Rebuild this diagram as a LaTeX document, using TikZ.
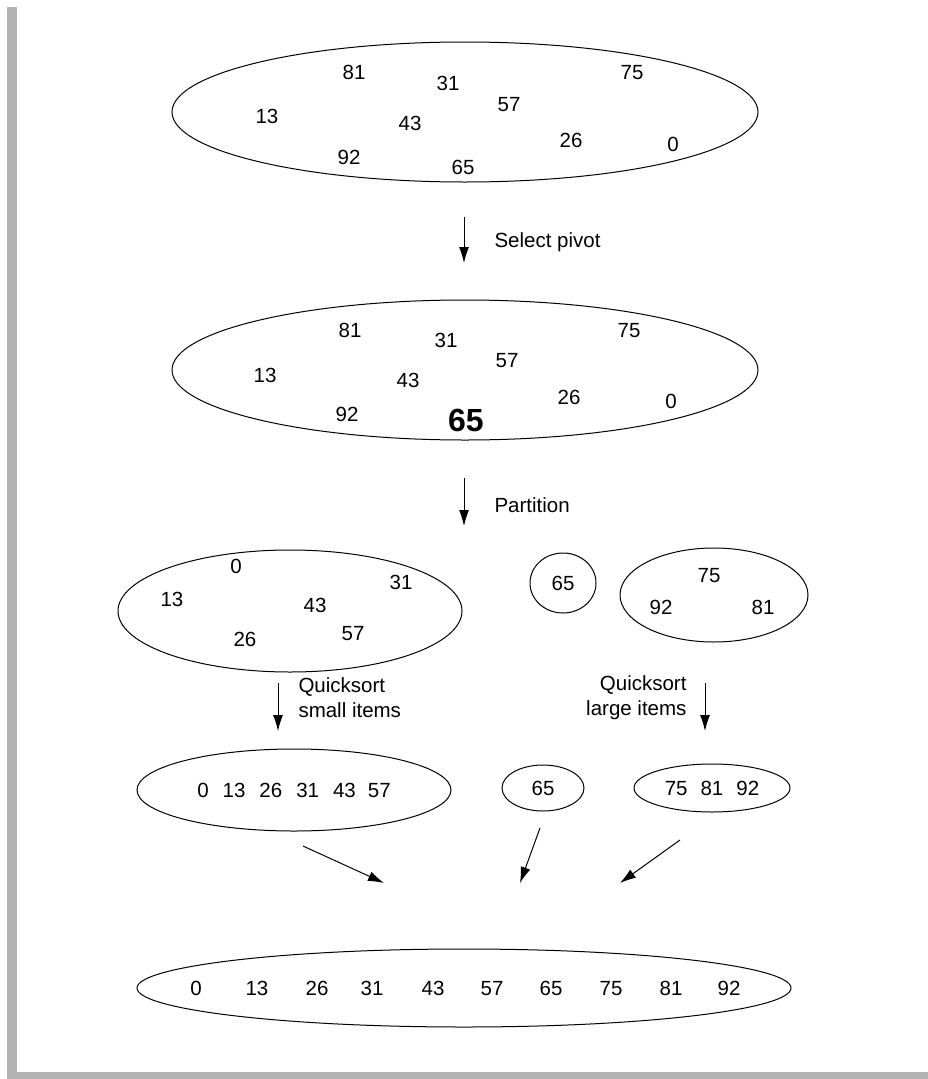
\documentclass[tikz,border=0pt]{standalone}
\usepackage{fontspec}
\setmainfont{Liberation Sans}
\usetikzlibrary{arrows.meta,shapes.geometric,positioning}

\begin{document}
\begin{tikzpicture}[x=1pt, y=-1pt, font=\fontsize{20.5}{25}\selectfont,
    line width=1pt, >={Latex[length=16pt,width=10pt]},
    num/.style={inner sep=0pt, text height=14.7pt, text depth=0pt},
    set/.style={draw, ellipse, inner sep=0pt},
    steplabel/.style={inner sep=0pt}]
    \useasboundingbox (0,0) rectangle (928,1079);
    % grey frame on the left and at the bottom
    \fill[black!30] (7,7) rectangle (17,1079);
    \fill[black!30] (7,1072) rectangle (928,1079);

    % the unsorted set
    \node[set, minimum width=586pt, minimum height=140pt] (unsorted) at (465,112) {};
    \node[num] (u81) at (354,72) {81};   \node[num] (u31) at (448,83) {31};
    \node[num] (u75) at (632,72) {75};   \node[num] (u13) at (267,116) {13};
    \node[num] (u57) at (509,104) {57};  \node[num] (u43) at (410,123) {43};
    \node[num] (u26) at (571,140) {26};  \node[num] (u0) at (673,144) {0};
    \node[num] (u92) at (349,157) {92};  \node[num] (u65) at (463,167) {65};

    % the set with its pivot
    \node[set, minimum width=586pt, minimum height=140pt] (pivoted) at (465,370) {};
    \node[num] (p81) at (350,330) {81};  \node[num] (p31) at (446,340) {31};
    \node[num] (p75) at (629,330) {75};  \node[num] (p13) at (265,375) {13};
    \node[num] (p57) at (507,360) {57};  \node[num] (p43) at (408,380) {43};
    \node[num] (p26) at (569,397) {26};  \node[num] (p0) at (671,401) {0};
    \node[num] (p92) at (347,414) {92};
    \node[num, text height=23pt, font=\fontsize{32}{36}\selectfont\bfseries] (p65) at (466,420) {65};

    % after the partition
    \node[set, minimum width=344pt, minimum height=122pt] (small) at (290,611) {};
    \node[num] (s0) at (236,566) {0};    \node[num] (s31) at (401,582) {31};
    \node[num] (s13) at (172,599) {13};  \node[num] (s43) at (315,605) {43};
    \node[num] (s26) at (245,639) {26};  \node[num] (s57) at (353,633) {57};
    \node[set, minimum width=66pt, minimum height=60pt] (pivot) at (563,583) {65};
    \node[set, minimum width=188pt, minimum height=94pt] (large) at (714,595) {};
    \node[num] (l75) at (709,575) {75};  \node[num] (l92) at (661,607) {92};
    \node[num] (l81) at (763,607) {81};

    % the sorted parts
    \node[set, minimum width=314pt, minimum height=82pt] (smallsorted) at (294,790)
      {0\hspace{14pt}13\hspace{14pt}26\hspace{14pt}31\hspace{14pt}43\hspace{12pt}57};
    \node[set, minimum width=82pt, minimum height=46pt] (pivotsorted) at (543,788) {65};
    \node[set, minimum width=156pt, minimum height=48pt] (largesorted) at (712,788)
      {75\hspace{13pt}81\hspace{13pt}92};

    % the sorted result
    \node[set, minimum width=654pt, minimum height=78pt] (result) at (464,988) {};
    \node[num] (r0) at (196,988) {0};    \node[num] (r13) at (257,988) {13};
    \node[num] (r26) at (317,988) {26};  \node[num] (r31) at (372,988) {31};
    \node[num] (r43) at (433,988) {43};  \node[num] (r57) at (492,988) {57};
    \node[num] (r65) at (551,988) {65};  \node[num] (r75) at (611,988) {75};
    \node[num] (r81) at (671,988) {81};  \node[num] (r92) at (729,988) {92};

    % step labels
    \node[steplabel, anchor=west] (select) at (494,242) {Select pivot};
    \node[steplabel, anchor=west] (part) at (494,505) {Partition};
    \node[steplabel, anchor=west, align=left] (qsmall) at (298,698) {Quicksort\\small items};
    \node[steplabel, anchor=east, align=right] (qlarge) at (687,698) {Quicksort\\large items};

    \coordinate (selA) at (464,217);  \coordinate (selB) at (464,263);
    \coordinate (partA) at (464,478); \coordinate (partB) at (464,526);
    \coordinate (qsA) at (278,683);   \coordinate (qsB) at (278,731);
    \coordinate (qlA) at (705,683);   \coordinate (qlB) at (705,731);
    \coordinate (jsA) at (303,846);   \coordinate (jsB) at (384,883);
    \coordinate (jpA) at (540,828);   \coordinate (jpB) at (520,883);
    \coordinate (jlA) at (680,840);   \coordinate (jlB) at (620,883);
    \path[->]
      (selA) edge (selB)
      (partA) edge (partB)
      (qsA) edge (qsB)
      (qlA) edge (qlB)
      (jsA) edge (jsB)
      (jpA) edge (jpB)
      (jlA) edge (jlB);
\end{tikzpicture}
\end{document}
